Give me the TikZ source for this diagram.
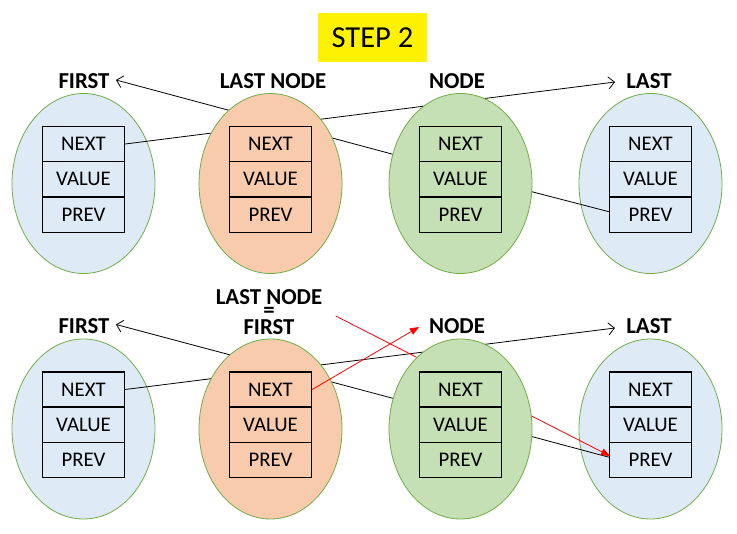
\documentclass[tikz,border=0pt]{standalone}
\usepackage{fontspec}
\setmainfont{Carlito}
\usetikzlibrary{arrows.meta,shapes.geometric}
\definecolor{eblue}{HTML}{DEEBF7}
\definecolor{eorange}{HTML}{F8CBAD}
\definecolor{egreen}{HTML}{C5E0B4}
\definecolor{eborder}{HTML}{70AD47}
\newcommand\llcol[4]{%
  \node[oval, fill=#4] (#1) at (#2,#3) {};
  \node[cell, fill=#4] (#1n) at (#2,#3-39.5) {NEXT};
  \node[cell, fill=#4] (#1v) at (#2,#3-4.2) {VALUE};
  \node[cell, fill=#4] (#1p) at (#2,#3+31.1) {PREV};
}
\begin{document}
\begin{tikzpicture}[x=1pt,y=-1pt,
  oval/.style={ellipse, draw=eborder, line width=0.8pt, minimum width=143pt, minimum height=180pt, inner sep=0pt},
  cell/.style={rectangle, draw=black, line width=1.4pt, minimum width=82pt, minimum height=35.3pt, inner sep=0pt, font=\fontsize{20.8}{22}\selectfont},
  lbl/.style={font=\fontsize{22.8}{24}\selectfont\bfseries, inner sep=0pt},
  link/.style={draw=black, line width=0.8pt},
  openarrow/.style={link, -{Straight Barb[length=6pt,width=12pt,line width=0.8pt]}},
  redline/.style={draw=red, line width=0.8pt, -{Triangle[length=9pt,width=7pt]}}
]
\useasboundingbox (0,0) rectangle (737,534);

% title
\node[fill=yellow, minimum width=109pt, minimum height=49pt, inner sep=0pt, font=\fontsize{30.5}{32}\selectfont] (title) at (372.5,37.5) {STEP 2};

% labels
\node[lbl] (lfa) at (84,81.5) {FIRST};
\node[lbl] (lla) at (273,81.5) {LAST NODE};
\node[lbl] (lna) at (457,81.5) {NODE};
\node[lbl] (lta) at (649,81.5) {LAST};
\node[lbl] (lfb) at (84,326) {FIRST};
\node[lbl] (llb) at (269,297) {LAST NODE};
\node[lbl] (leq) at (269,312) {=};
\node[lbl] (llf) at (269,327.5) {FIRST};
\node[lbl] (lnb) at (457,326.5) {NODE};
\node[lbl] (ltb) at (649,326.5) {LAST};

% columns below the links
\llcol{a1}{83.5}{183.5}{eblue}
\llcol{a4}{650.5}{183.5}{eblue}
\llcol{b1}{83.5}{429}{eblue}
\llcol{b4}{650.5}{429}{eblue}

% free ends
\coordinate (t1s) at (400,156.2);
\coordinate (t1e) at (116,80);
\coordinate (t2e) at (615,82);
\coordinate (t3s) at (526,190.2);
\coordinate (u1s) at (400,400.2);
\coordinate (u1e) at (116,324.5);
\coordinate (u2e) at (615,328);
\coordinate (u3s) at (526,435);
\coordinate (r1s) at (335.7,316);
\coordinate (r1e) at (610,456);
\coordinate (r2e) at (419,327);

% links (top)
\draw[openarrow] (t1s) -- (t1e);
\draw[openarrow] (a1n.east) -- (t2e);
\draw[link] (t3s) -- (a4p.176);
% links (bottom)
\draw[openarrow] (u1s) -- (u1e);
\draw[openarrow] (b1n.east) -- (u2e);
\draw[link] (u3s) -- (b4p.176);
\draw[redline] (r1s) -- (r1e);

% columns above the links
\llcol{a2}{270.5}{183.5}{eorange}
\llcol{a3}{460.5}{183.5}{egreen}
\llcol{b2}{270.5}{429}{eorange}
\llcol{b3}{460.5}{429}{egreen}

\draw[redline] (b2n.east) -- (r2e);
\end{tikzpicture}
\end{document}
